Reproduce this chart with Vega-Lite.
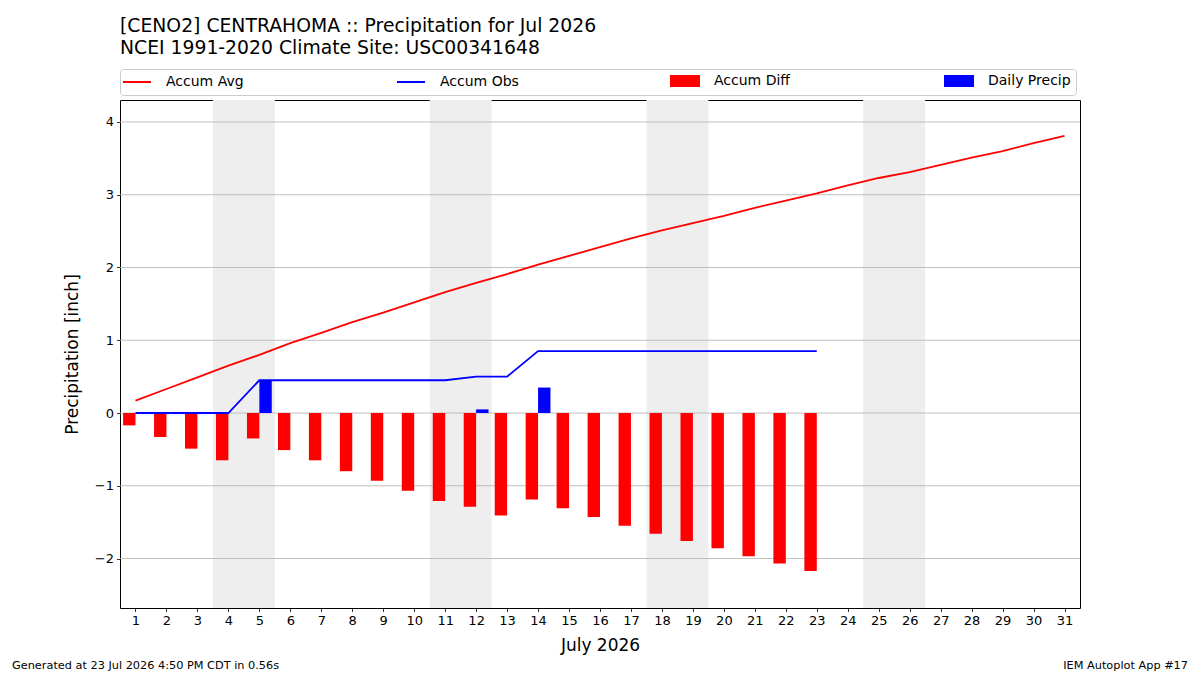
{
  "$schema": "https://vega.github.io/schema/vega-lite/v6.json",
  "background": "white",
  "padding": {"left": 12, "top": 16, "right": 12, "bottom": 4},
  "bounds": "flush",
  "spacing": 44,
  "config": {
    "font": "DejaVu Sans",
    "axis": {
      "labelColor": "black", "titleColor": "black", "tickColor": "black",
      "domain": false, "grid": false, "labelFontSize": 13, "titleFontSize": 17,
      "titleFontWeight": "normal", "tickSize": 3.5, "tickWidth": 0.8, "labelPadding": 3,
      "labelOverlap": false
    },
    "title": {"color": "black", "fontWeight": "normal"}
  },
  "datasets": {
    "daily": [
      {"day": 1, "avg": 0.17, "obs": 0.0, "diff": -0.17, "precip": 0.0},
      {"day": 2, "avg": 0.33, "obs": 0.0, "diff": -0.33, "precip": 0.0},
      {"day": 3, "avg": 0.49, "obs": 0.0, "diff": -0.49, "precip": 0.0},
      {"day": 4, "avg": 0.65, "obs": 0.0, "diff": -0.65, "precip": 0.0},
      {"day": 5, "avg": 0.80, "obs": 0.45, "diff": -0.35, "precip": 0.45},
      {"day": 6, "avg": 0.96, "obs": 0.45, "diff": -0.51, "precip": 0.0},
      {"day": 7, "avg": 1.10, "obs": 0.45, "diff": -0.65, "precip": 0.0},
      {"day": 8, "avg": 1.25, "obs": 0.45, "diff": -0.80, "precip": 0.0},
      {"day": 9, "avg": 1.38, "obs": 0.45, "diff": -0.93, "precip": 0.0},
      {"day": 10, "avg": 1.52, "obs": 0.45, "diff": -1.07, "precip": 0.0},
      {"day": 11, "avg": 1.66, "obs": 0.45, "diff": -1.21, "precip": 0.0},
      {"day": 12, "avg": 1.79, "obs": 0.50, "diff": -1.29, "precip": 0.05},
      {"day": 13, "avg": 1.91, "obs": 0.50, "diff": -1.41, "precip": 0.0},
      {"day": 14, "avg": 2.04, "obs": 0.85, "diff": -1.19, "precip": 0.35},
      {"day": 15, "avg": 2.16, "obs": 0.85, "diff": -1.31, "precip": 0.0},
      {"day": 16, "avg": 2.28, "obs": 0.85, "diff": -1.43, "precip": 0.0},
      {"day": 17, "avg": 2.40, "obs": 0.85, "diff": -1.55, "precip": 0.0},
      {"day": 18, "avg": 2.51, "obs": 0.85, "diff": -1.66, "precip": 0.0},
      {"day": 19, "avg": 2.61, "obs": 0.85, "diff": -1.76, "precip": 0.0},
      {"day": 20, "avg": 2.71, "obs": 0.85, "diff": -1.86, "precip": 0.0},
      {"day": 21, "avg": 2.82, "obs": 0.85, "diff": -1.97, "precip": 0.0},
      {"day": 22, "avg": 2.92, "obs": 0.85, "diff": -2.07, "precip": 0.0},
      {"day": 23, "avg": 3.02, "obs": 0.85, "diff": -2.17, "precip": 0.0},
      {"day": 24, "avg": 3.13, "obs": null, "diff": null, "precip": null},
      {"day": 25, "avg": 3.23, "obs": null, "diff": null, "precip": null},
      {"day": 26, "avg": 3.31, "obs": null, "diff": null, "precip": null},
      {"day": 27, "avg": 3.41, "obs": null, "diff": null, "precip": null},
      {"day": 28, "avg": 3.51, "obs": null, "diff": null, "precip": null},
      {"day": 29, "avg": 3.60, "obs": null, "diff": null, "precip": null},
      {"day": 30, "avg": 3.71, "obs": null, "diff": null, "precip": null},
      {"day": 31, "avg": 3.81, "obs": null, "diff": null, "precip": null}
    ],
    "weekends": [
      {"start": 3.5, "end": 5.5},
      {"start": 10.5, "end": 12.5},
      {"start": 17.5, "end": 19.5},
      {"start": 24.5, "end": 26.5}
    ],
    "gridlines": [
      {"level": -2}, {"level": -1}, {"level": 0}, {"level": 1},
      {"level": 2}, {"level": 3}, {"level": 4}
    ]
  },
  "vconcat": [
    {
      "width": 960,
      "height": 508,
      "view": {"stroke": "black", "strokeWidth": 1},
      "title": {
        "text": "[CENO2] CENTRAHOMA :: Precipitation for Jul 2026",
        "subtitle": "NCEI 1991-2020 Climate Site: USC00341648",
        "anchor": "start", "frame": "group", "fontSize": 18.8,
        "subtitleFontSize": 18.8, "subtitleColor": "black", "subtitlePadding": 3,
        "offset": 42
      },
      "encoding": {
        "x": {"field": "day", "type": "quantitative", "title": "July 2026",
              "scale": {"domain": [0.5, 31.5], "nice": false, "zero": false, "padding": 0},
              "axis": {"values": [1,2,3,4,5,6,7,8,9,10,11,12,13,14,15,16,17,18,19,20,21,22,23,24,25,26,27,28,29,30,31],
                       "tickCount": 31, "format": "d", "titlePadding": 10, "labelOverlap": false}}
      },
      "layer": [
        {
          "data": {"name": "weekends"},
          "mark": {"type": "rect", "color": "#eeeeee"},
          "encoding": {
            "x": {"field": "start", "type": "quantitative", "title": "July 2026",
                  "axis": {"values": [1,2,3,4,5,6,7,8,9,10,11,12,13,14,15,16,17,18,19,20,21,22,23,24,25,26,27,28,29,30,31],
                           "tickCount": 31, "format": "d", "titlePadding": 10, "labelOverlap": false}},
            "x2": {"field": "end"}
          }
        },
        {
          "data": {"name": "gridlines"},
          "mark": {"type": "rule", "color": "#b0b0b0", "strokeWidth": 0.8},
          "encoding": {
            "x": null,
            "y": {"field": "level", "type": "quantitative", "title": "Precipitation [inch]",
                  "scale": {"domain": [-2.68, 4.302], "nice": false, "zero": false, "padding": 0},
                  "axis": {"values": [-2,-1,0,1,2,3,4], "tickCount": 7, "format": "d", "titlePadding": 13, "labelOverlap": false}}
          }
        },
        {
          "data": {"name": "daily"},
          "transform": [{"filter": "datum.diff != null"}],
          "mark": {"type": "bar", "width": 12.4, "xOffset": -6.2},
          "encoding": {
            "y": {"field": "diff", "type": "quantitative", "title": "Precipitation [inch]",
                  "axis": {"values": [-2,-1,0,1,2,3,4], "tickCount": 7, "format": "d", "titlePadding": 13, "labelOverlap": false}},
            "color": {
              "datum": "Accum Diff",
              "scale": {
                "domain": ["Accum Avg", "Accum Obs", "Accum Diff", "Daily Precip"],
                "range": ["#ff0000", "#0000ff", "#ff0000", "#0000ff"]
              },
              "legend": {
                "title": null,
                "orient": "none",
                "legendX": 0,
                "legendY": -31,
                "direction": "horizontal",
                "columns": 4,
                "gridAlign": "all",
                "columnPadding": 144,
                "symbolSize": 100,
                "labelFontSize": 14,
                "labelColor": "black",
                "labelOffset": 27,
                "padding": 5,
                "strokeColor": "#cccccc",
                "fillColor": "white",
                "cornerRadius": 3,
                "encode": {
                  "symbols": {
                    "update": {
                      "shape": {"signal": "datum.value === 'Accum Avg' || datum.value === 'Accum Obs' ? 'M-1.8,0H3.8' : 'M-1.8,-1H3.8V1H-1.8Z'"},
                      "fill": {"signal": "datum.value === 'Accum Avg' || datum.value === 'Accum Obs' ? 'transparent' : scale('color', datum.value)"},
                      "stroke": {"signal": "datum.value === 'Accum Avg' || datum.value === 'Accum Obs' ? scale('color', datum.value) : 'transparent'"},
                      "strokeWidth": {"value": 2},
                      "opacity": {"value": 1},
                      "fillOpacity": {"value": 1}
                    }
                  }
                }
              }
            }
          }
        },
        {
          "data": {"name": "daily"},
          "transform": [{"filter": "datum.precip != null"}],
          "mark": {"type": "bar", "width": 12.4, "xOffset": 6.2},
          "encoding": {
            "y": {"field": "precip", "type": "quantitative", "title": "Precipitation [inch]"},
            "color": {"datum": "Daily Precip"}
          }
        },
        {
          "data": {"name": "daily"},
          "mark": {"type": "line", "strokeWidth": 1.8},
          "encoding": {
            "y": {"field": "avg", "type": "quantitative", "title": "Precipitation [inch]"},
            "color": {"datum": "Accum Avg"}
          }
        },
        {
          "data": {"name": "daily"},
          "transform": [{"filter": "datum.obs != null"}],
          "mark": {"type": "line", "strokeWidth": 1.8},
          "encoding": {
            "y": {"field": "obs", "type": "quantitative", "title": "Precipitation [inch]"},
            "color": {"datum": "Accum Obs"}
          }
        }
      ]
    },
    {
      "hconcat": [
        {
          "width": 534,
          "height": 1,
          "view": {"stroke": null},
          "data": {"values": [{}]},
          "mark": {"type": "text", "text": ""},
          "title": {
            "text": "Generated at 23 Jul 2026 4:50 PM CDT in 0.56s",
            "orient": "bottom", "anchor": "start", "dx": -108,
            "fontSize": 11.3, "offset": 2
          }
        },
        {
          "width": 534,
          "height": 1,
          "view": {"stroke": null},
          "data": {"values": [{}]},
          "mark": {"type": "text", "text": ""},
          "title": {
            "text": "IEM Autoplot App #17",
            "orient": "bottom", "anchor": "end",
            "fontSize": 11.3, "offset": 2
          }
        }
      ],
      "spacing": 0,
      "bounds": "flush"
    }
  ]
}
